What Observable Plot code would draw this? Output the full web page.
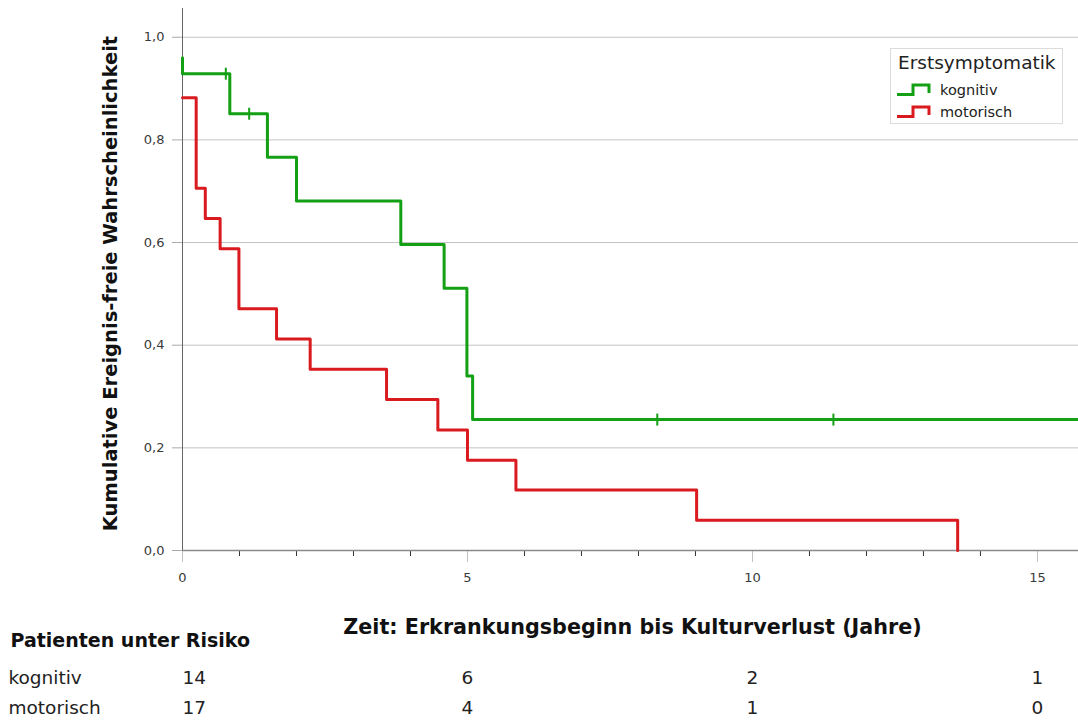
<!DOCTYPE html>
<html>
<head>
<meta charset="utf-8">
<script src="https://cdn.jsdelivr.net/npm/d3@7"></script>
<script src="https://cdn.jsdelivr.net/npm/@observablehq/plot@0.6"></script>
<style>
  body { margin: 0; background: #fff; font-family: "DejaVu Sans", sans-serif; }
  #wrap { position: relative; width: 1078px; height: 722px; overflow: hidden; }
  .legend {
    position: absolute; left: 890px; top: 48px; width: 173px; height: 76px;
    box-sizing: border-box; border: 1px solid #dcdcdc; background: #fff; color: #222;
  }
  .legend .title { position: absolute; left: 7px; top: 3px; font-size: 18.5px; white-space: nowrap; }
  .legend .item { position: absolute; left: 5px; height: 16px; display: flex; align-items: center; font-size: 14.5px; }
  .legend .item svg { margin-right: 8px; }
</style>
</head>
<body>
<div id="wrap"></div>
<script>
// Kaplan-Meier estimates by first symptom group
const groups = ["kognitiv", "motorisch"];
const groupColors = ["#14a014", "#d91a1f"];

const kognitivTime = [0, 0, 0.83, 1.49, 2.0, 3.83, 4.59, 4.99, 5.09, 15.72];
const kognitivSurv = [0.96, 0.929, 0.851, 0.766, 0.681, 0.596, 0.511, 0.340, 0.255, 0.255];

const motorischTime = [0, 0.24, 0.40, 0.66, 0.99, 1.65, 2.24, 3.58, 4.48, 5.0, 5.85, 9.02, 13.6];
const motorischSurv = [0.882, 0.706, 0.647, 0.588, 0.471, 0.412, 0.353, 0.294, 0.235, 0.176, 0.118, 0.059, 0];

// censored observations (kognitiv)
const censorTime = [0.76, 1.17, 8.33, 11.42];
const censorSurv = [0.929, 0.851, 0.255, 0.255];

// number at risk
const riskTimes = [0, 5, 10, 15];
const riskKognitiv = [14, 6, 2, 1];
const riskMotorisch = [17, 4, 1, 0];

const yTicks = [0, 0.2, 0.4, 0.6, 0.8, 1.0];
const xMajorTicks = [0, 5, 10, 15];
const xMinorTicks = d3.range(0, 16).filter(d => d % 5 !== 0);

const yTitle = "Kumulative Ereignis-freie Wahrscheinlichkeit";
const xTitle = "Zeit: Erkrankungsbeginn bis Kulturverlust (Jahre)";
const riskTitle = "Patienten unter Risiko";
const legendTitle = "Erstsymptomatik";

const stepRows = [
  ...kognitivTime.map((t, i) => ({group: "kognitiv", t, s: kognitivSurv[i]})),
  ...motorischTime.map((t, i) => ({group: "motorisch", t, s: motorischSurv[i]}))
];
const censorRows = censorTime.map((t, i) => ({t, s: censorSurv[i]}));
const riskRows = riskTimes.map((t, i) => ({t, kog: riskKognitiv[i], mot: riskMotorisch[i]}));
const rowLabels = groups.map((g, i) => ({g, i}));

// vertical bar used for censor marks
const censorSymbol = {
  draw(context) {
    context.moveTo(0, -6);
    context.lineTo(0, 6);
  }
};

const commaFmt = d => d.toFixed(1).replace(".", ",");
const tableFont = 18.5;
const row1 = 133, row2 = 163;

const chart = Plot.plot({
  width: 1078,
  height: 722,
  marginTop: 8,
  marginLeft: 182,
  marginRight: 0,
  marginBottom: 172,
  style: {fontFamily: '"DejaVu Sans", sans-serif', background: "#fff", overflow: "visible"},
  x: {domain: [0, 15.72], label: null},
  y: {domain: [0, 1.056], label: null},
  color: {domain: groups, range: groupColors},
  marks: [
    Plot.gridY(yTicks, {stroke: "#c4c4c4", strokeOpacity: 1}),
    Plot.axisY(yTicks, {tickSize: 10, tickPadding: 8, tickFormat: commaFmt, fontSize: 13, fill: "#3a3a3a", stroke: "#aaa", label: null}),
    Plot.axisX(xMajorTicks, {tickSize: 12, tickFormat: () => "", stroke: "#c0c0c0", label: null}),
    Plot.axisX(xMinorTicks, {tickSize: 6, tickFormat: () => "", stroke: "#333", label: null}),
    Plot.axisX(xMajorTicks, {tickSize: 0, tickPadding: 22, fontSize: 13, fill: "#3a3a3a", label: null}),
    Plot.ruleY([0], {stroke: "#8a8a8a", strokeWidth: 1.5}),
    Plot.ruleX([0], {stroke: "#666"}),
    Plot.line(stepRows, {x: "t", y: "s", z: "group", stroke: "group", strokeWidth: 3, curve: "step-after"}),
    Plot.dot(censorRows, {x: "t", y: "s", stroke: groupColors[0], strokeWidth: 2, fill: "none", symbol: censorSymbol}),
    // axis titles
    Plot.text([yTitle], {text: d => d, frameAnchor: "left", textAnchor: "middle", rotate: -90, dx: -72, dy: 4, fontSize: 19.5, fontWeight: "bold", fill: "#111"}),
    Plot.text([xTitle], {text: d => d, frameAnchor: "bottom", dy: 83, dx: 2, fontSize: 20.7, fontWeight: "bold", fill: "#111"}),
    // number-at-risk table
    Plot.text([riskTitle], {text: d => d, frameAnchor: "bottom-left", textAnchor: "start", dx: -172, dy: 96, fontSize: 19, fontWeight: "bold", fill: "#111"}),
    Plot.text(rowLabels, {text: "g", frameAnchor: "bottom-left", textAnchor: "start", dx: -174, dy: row1, filter: d => d.i === 0, fontSize: tableFont, fill: "#222"}),
    Plot.text(rowLabels, {text: "g", frameAnchor: "bottom-left", textAnchor: "start", dx: -174, dy: row2, filter: d => d.i === 1, fontSize: tableFont, fill: "#222"}),
    Plot.text(riskRows, {x: "t", text: "kog", frameAnchor: "bottom", dy: row1, textAnchor: "start", filter: d => d.t === 0, fontSize: tableFont, fill: "#222"}),
    Plot.text(riskRows, {x: "t", text: "kog", frameAnchor: "bottom", dy: row1, filter: d => d.t !== 0, fontSize: tableFont, fill: "#222"}),
    Plot.text(riskRows, {x: "t", text: "mot", frameAnchor: "bottom", dy: row2, textAnchor: "start", filter: d => d.t === 0, fontSize: tableFont, fill: "#222"}),
    Plot.text(riskRows, {x: "t", text: "mot", frameAnchor: "bottom", dy: row2, filter: d => d.t !== 0, fontSize: tableFont, fill: "#222"})
  ]
});

const wrap = document.getElementById("wrap");
wrap.appendChild(chart);

// legend box
const legend = document.createElement("div");
legend.className = "legend";
const stepIcon = c => `<svg width="36" height="14" viewBox="0 0 36 14"><path d="M1,11.5H17V2H33V10" fill="none" stroke="${c}" stroke-width="3"/></svg>`;
legend.innerHTML = `<div class="title">${legendTitle}</div>` +
  groups.map((g, i) => `<div class="item" style="top:${33 + i * 22}px">${stepIcon(groupColors[i])}<span>${g}</span></div>`).join("");
wrap.appendChild(legend);
</script>
</body>
</html>
